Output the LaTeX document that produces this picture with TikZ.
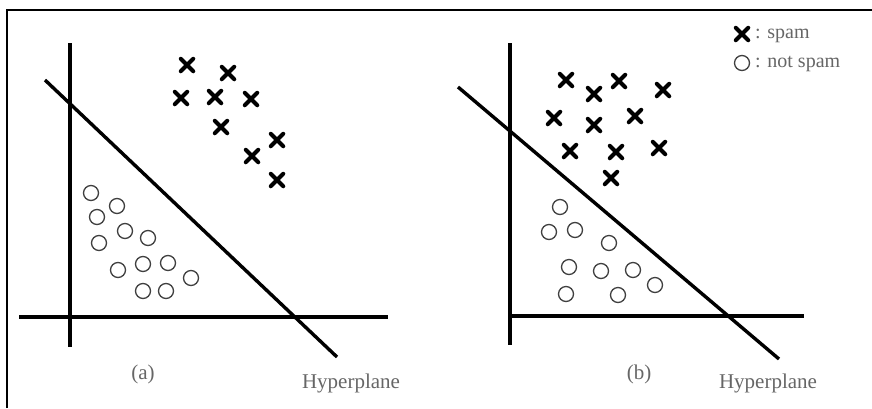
\documentclass[tikz,border=0pt]{standalone}
\usepackage{fontspec}
\setmainfont{Liberation Serif}
\usetikzlibrary{shapes.misc}
\begin{document}
\begin{tikzpicture}[x=1pt,y=-1pt,
  spam/.style={cross out,draw,line width=4pt,minimum size=8.5pt,inner sep=0pt,line cap=round},
  ham/.style={circle,draw=black!75,line width=1.3pt,minimum size=15pt,inner sep=0pt},
  axisline/.style={line width=3.4pt},
  lbl/.style={font=\fontsize{21}{23}\selectfont,text=black!60,inner sep=0pt},
  leg/.style={font=\fontsize{20}{22}\selectfont,text=black!60,inner sep=0pt,anchor=west}]
\useasboundingbox (0,0) rectangle (872,408);
% frame (left and top edges visible)
\coordinate (fbl) at (7,408);
\coordinate (ftl) at (7,10);
\coordinate (ftr) at (872,10);
\draw[line width=2pt] (fbl) -- (ftl) -- (ftr);

% ---------- panel (a)
\coordinate (av1) at (70,43);  \coordinate (av2) at (70,347);
\coordinate (ah1) at (19,317); \coordinate (ah2) at (388,317);
\coordinate (ad1) at (45,80);  \coordinate (ad2) at (337,357);
\draw[axisline] (av1) -- (av2);
\draw[axisline] (ah1) -- (ah2);
\draw[axisline] (ad1) -- (ad2);
\foreach \p [count=\i] in {(187,65),(228,73),(181,98),(215,97),(251,99),(221,127),(277,140),(252,156),(277,180)}
  \node[spam] (as\i) at \p {};
\foreach \p [count=\i] in {(91,193),(117,206),(97,217),(125,231),(148,238),(99,243),(118,270),(143,264),(168,263),(191,278),(143,291),(166,291)}
  \node[ham] (ac\i) at \p {};
\node[lbl,anchor=base] (la) at (143,379) {(a)};
\node[lbl,anchor=base] (hpa) at (351,388) {Hyperplane};

% ---------- panel (b)
\coordinate (bv1) at (510,43);  \coordinate (bv2) at (510,345);
\coordinate (bh1) at (511,316); \coordinate (bh2) at (804,316);
\coordinate (bd1) at (458,87);  \coordinate (bd2) at (779,359);
\draw[axisline] (bv1) -- (bv2);
\draw[axisline] (bh1) -- (bh2);
\draw[axisline] (bd1) -- (bd2);
\foreach \p [count=\i] in {(566,80),(594,94),(619,81),(663,90),(554,118),(594,125),(635,116),(570,151),(616,152),(659,148),(611,178)}
  \node[spam] (bs\i) at \p {};
\foreach \p [count=\i] in {(560,207),(549,232),(575,230),(609,243),(569,267),(601,271),(633,270),(655,285),(566,294),(618,295)}
  \node[ham] (bc\i) at \p {};
\node[lbl,anchor=base] (lb) at (639,379) {(b)};
\node[lbl,anchor=base] (hpb) at (768,388) {Hyperplane};

% ---------- legend
\node[spam] (legs) at (742,34) {};
\node[ham] (legc) at (742,63) {};
\node[leg] (legst) at (755,36) {: spam};
\node[leg] (legct) at (755,64) {: not spam};
\end{tikzpicture}
\end{document}
